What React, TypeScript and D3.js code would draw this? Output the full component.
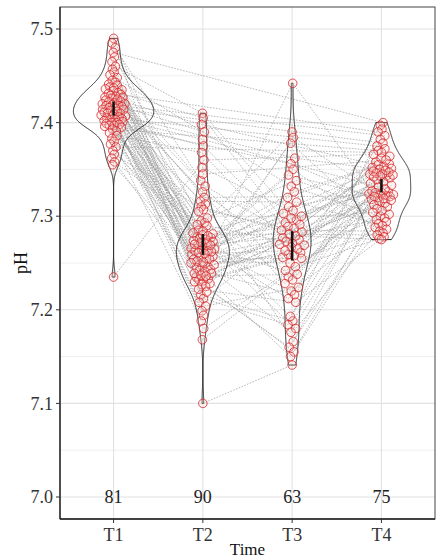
import React from "react";
import * as d3 from "d3";

const times = ["T1", "T2", "T3", "T4"];

// pH per subject (array index = subject id), null = no sample at that time
const phT1 = [
  7.49, 7.485, 7.48, 7.475, 7.47, 7.465, 7.46, 7.457, 7.454, 7.451,
  7.448, 7.445, 7.443, 7.441, 7.44, 7.438, 7.437, 7.436, 7.435, 7.434,
  7.432, 7.431, 7.43, 7.429, 7.428, 7.427, 7.427, 7.426, 7.425, 7.424,
  7.423, 7.422, 7.421, 7.42, 7.42, 7.419, 7.418, 7.418, 7.417, 7.416,
  7.415, 7.414, 7.414, 7.413, 7.412, 7.411, 7.41, 7.41, 7.409, 7.408,
  7.407, 7.407, 7.406, 7.405, 7.404, 7.403, 7.403, 7.402, 7.401, 7.4,
  7.4, 7.399, 7.398, 7.397, 7.397, 7.396, 7.395, 7.393, 7.391, 7.389,
  7.386, 7.383, 7.38, 7.377, 7.374, 7.37, 7.366, 7.362, 7.358, 7.355,
  7.235, null, null, null, null, null, null, null, null, null,
  null, null, null, null, null, null, null, null, null, null,
  null, null, null, null,
];
const phT2 = [
  7.269, 7.338, 7.235, null, 7.295, 7.259, 7.41, 7.216, 7.278, null,
  7.247, 7.267, 7.332, 7.233, 7.293, null, 7.257, 7.405, 7.212, 7.277,
  7.246, 7.266, null, 7.326, 7.232, 7.291, 7.257, 7.398, null, 7.208,
  7.276, 7.245, 7.265, 7.32, 7.231, null, 7.29, 7.255, 7.39, 7.204,
  7.275, null, 7.243, 7.264, 7.316, 7.23, 7.285, 7.254, null, 7.382,
  7.199, 7.274, 7.242, 7.263, null, 7.313, 7.228, 7.284, 7.254, 7.375,
  7.194, null, 7.273, 7.241, 7.263, 7.31, 7.227, null, 7.282, 7.252,
  7.368, 7.188, 7.272, 7.239, null, 7.262, 7.307, 7.225, 7.281, 7.251,
  7.36, 7.18, 7.272, 7.239, 7.261, 7.305, 7.222, 7.28, null, 7.25,
  7.352, 7.168, 7.27, 7.237, 7.26, 7.298, 7.219, 7.279, 7.248, null,
  7.345, 7.1, 7.269, 7.236,
];
const phT3 = [
  7.277, null, 7.442, null, 7.235, null, 7.296, 7.188, null, 7.332,
  7.261, null, 7.275, null, 7.39, 7.232, null, 7.293, 7.184, null,
  null, 7.326, null, 7.259, 7.273, null, 7.384, null, 7.228, 7.291,
  7.18, null, 7.32, null, 7.258, null, 7.271, 7.378, null, 7.224,
  7.289, null, 7.176, null, 7.315, 7.256, null, 7.27, 7.362, null,
  null, 7.22, null, 7.287, null, 7.166, 7.31, null, 7.255, 7.269,
  null, 7.356, null, 7.216, null, 7.285, 7.16, null, 7.306, 7.25,
  7.267, null, 7.35, null, null, 7.212, 7.283, 7.155, null, 7.303,
  null, 7.246, null, 7.265, 7.344, null, 7.208, null, 7.281, 7.15,
  7.3, null, 7.242, null, 7.263, 7.338, null, 7.193, null, 7.279,
  null, 7.141, 7.298, 7.238,
];
const phT4 = [
  7.345, null, 7.302, 7.4, 7.326, null, 7.358, 7.343, null, 7.3,
  7.397, null, 7.325, 7.356, null, 7.341, 7.298, null, 7.393, 7.324,
  null, 7.355, 7.39, 7.296, 7.339, null, 7.323, 7.353, 7.337, null,
  7.294, null, 7.352, 7.322, null, 7.386, 7.335, 7.292, null, 7.382,
  null, 7.378, 7.351, 7.333, 7.29, 7.321, null, 7.32, 7.35, 7.331,
  null, 7.288, 7.318, null, 7.375, 7.349, 7.329, null, 7.286, 7.372,
  null, 7.316, 7.348, 7.327, null, 7.284, 7.314, 7.37, 7.347, null,
  7.325, null, 7.282, 7.312, 7.368, 7.346, null, 7.323, 7.28, null,
  7.366, 7.31, null, 7.345, 7.321, null, 7.278, null, 7.364, 7.308,
  7.344, 7.319, 7.276, null, 7.362, 7.306, null, 7.343, 7.317, 7.275,
  7.36, null, 7.304, 7.342,
];

const yTicks = [7.0, 7.1, 7.2, 7.3, 7.4, 7.5];
const yMinor = [7.05, 7.15, 7.25, 7.35, 7.45];

const width = 436;
const height = 560;
const left = 60;
const right = 435;
const top = 7;
const bottom = 519;

const x = d3.scaleLinear().domain([0.4, 4.6]).range([left, right]);
const y = d3.scaleLinear().domain([6.9765, 7.5235]).range([bottom, top]);

const series: (number | null)[][] = [phT1, phT2, phT3, phT4];

const gauss = (u: number) => Math.exp(-0.5 * u * u) / Math.sqrt(2 * Math.PI);

// van der Corput sequence, used like ggbeeswarm's quasirandom spread
function vdc(n: number) {
  let v = 0;
  let d = 1;
  while (n > 0) {
    d *= 2;
    v += (n % 2) / d;
    n = Math.floor(n / 2);
  }
  return v;
}

const groups = series.map((arr) => {
  const vals = arr.filter((v) => v != null) as number[];
  const sorted = vals.slice().sort(d3.ascending);
  const n = vals.length;
  const sd = d3.deviation(vals) as number;
  const iqr = (d3.quantileSorted(sorted, 0.75) as number) - (d3.quantileSorted(sorted, 0.25) as number);
  const bw = 0.9 * Math.min(sd, iqr / 1.34) * Math.pow(n, -0.2);
  const dens = (t: number) => (d3.mean(vals, (v) => gauss((t - v) / bw)) as number) / bw;
  const [lo, hi] = d3.extent(vals) as [number, number];
  const curve = d3.range(512).map((i) => {
    const t = lo + ((hi - lo) * i) / 511;
    return { t, d: dens(t) };
  });
  const mean = d3.mean(vals) as number;
  const ci = (1.96 * sd) / Math.sqrt(n);
  return { vals, n, dens, curve, maxD: d3.max(curve, (c) => c.d) as number, mean, ci };
});

const maxDens = d3.max(groups, (g) => g.maxD) as number;
const halfW = 0.45 * (x(2) - x(1));
const spread = 13;

const positions = series.map((arr, gi) => {
  const g = groups[gi];
  const ids = d3.range(arr.length).filter((s) => arr[s] != null);
  ids.sort((a, b) => (arr[a] as number) - (arr[b] as number) || a - b);
  const pos: ({ x: number; y: number } | null)[] = arr.map(() => null);
  ids.forEach((s, r) => {
    const v = arr[s] as number;
    const off = (vdc(r + 1) - 0.5) * 2 * spread * (g.dens(v) / g.maxD);
    pos[s] = { x: x(gi + 1) + off, y: y(v) };
  });
  return pos;
});

const subjectLines = d3
  .range(phT1.length)
  .map((s) => positions.map((p) => p[s]).filter((p) => p != null) as { x: number; y: number }[])
  .filter((p) => p.length > 1);

const line = d3
  .line<{ x: number; y: number }>()
  .x((d) => d.x)
  .y((d) => d.y);

const font = "'Liberation Serif', 'Times New Roman', serif";

export default function App() {
  return (
    <svg
      width={width}
      height={height}
      style={{ position: "absolute", left: 0, top: 0, background: "#fff" }}
      fontFamily={font}
    >
      <rect x={0} y={0} width={width} height={height} fill="#fff" />
      {/* grid */}
      {yMinor.map((t) => (
        <line key={"mi" + t} x1={left} x2={right} y1={y(t)} y2={y(t)} stroke="#eeeeee" strokeWidth={0.9} />
      ))}
      {yTicks.map((t) => (
        <line key={"ma" + t} x1={left} x2={right} y1={y(t)} y2={y(t)} stroke="#e2e2e2" strokeWidth={1.1} />
      ))}
      {times.map((t, i) => (
        <line key={"gx" + t} x1={x(i + 1)} x2={x(i + 1)} y1={top} y2={bottom} stroke="#e2e2e2" strokeWidth={1.1} />
      ))}

      {/* paired lines */}
      <g fill="none" stroke="#8a8a8a" strokeWidth={0.7} strokeDasharray="1.6,1.4" opacity={0.85}>
        {subjectLines.map((p, i) => (
          <path key={i} d={line(p) as string} />
        ))}
      </g>

      {/* violins */}
      {groups.map((g, gi) => {
        const cx = x(gi + 1);
        const area = d3
          .area<{ t: number; d: number }>()
          .y((c) => y(c.t))
          .x0((c) => cx - (halfW * c.d) / maxDens)
          .x1((c) => cx + (halfW * c.d) / maxDens);
        return <path key={"v" + gi} d={area(g.curve) as string} fill="none" stroke="#222" strokeWidth={1} />;
      })}

      {/* points */}
      <g fill="rgba(255,210,210,0.25)" stroke="#d42020" strokeWidth={0.9} strokeOpacity={0.85}>
        {positions.map((pos, gi) =>
          pos.map((p, s) => (p ? <circle key={gi + "-" + s} cx={p.x} cy={p.y} r={4.3} /> : null))
        )}
      </g>

      {/* mean with 95% interval */}
      {groups.map((g, gi) => (
        <rect
          key={"m" + gi}
          x={x(gi + 1) - 1.25}
          width={2.5}
          y={y(g.mean + g.ci)}
          height={y(g.mean - g.ci) - y(g.mean + g.ci)}
          fill="#111"
        />
      ))}

      {/* counts */}
      {groups.map((g, gi) => (
        <text key={"n" + gi} x={x(gi + 1)} y={y(7.0)} dy="0.35em" textAnchor="middle" fontSize={18} fill="#222">
          {g.n}
        </text>
      ))}

      {/* frame and axes */}
      <rect x={left} y={top} width={right - left} height={bottom - top} fill="none" stroke="#444" strokeWidth={1} />
      <line x1={left} x2={left} y1={top} y2={bottom} stroke="#222" strokeWidth={1.3} />
      <line x1={left} x2={right} y1={bottom} y2={bottom} stroke="#222" strokeWidth={1.3} />

      {yTicks.map((t) => (
        <g key={"yt" + t}>
          <line x1={left - 4} x2={left} y1={y(t)} y2={y(t)} stroke="#333" />
          <text x={left - 7} y={y(t)} dy="0.35em" textAnchor="end" fontSize={18} fill="#333">
            {t.toFixed(1)}
          </text>
        </g>
      ))}
      {times.map((t, i) => (
        <g key={"xt" + t}>
          <line x1={x(i + 1)} x2={x(i + 1)} y1={bottom} y2={bottom + 4} stroke="#333" />
          <text x={x(i + 1)} y={bottom + 16} dy="0.35em" textAnchor="middle" fontSize={18} fill="#333">
            {t}
          </text>
        </g>
      ))}

      <text x={(left + right) / 2} y={555} textAnchor="middle" fontSize={17} fill="#111">
        Time
      </text>
      <text
        transform={`translate(21,${(top + bottom) / 2}) rotate(-90)`}
        textAnchor="middle"
        dy="0.35em"
        fontSize={18}
        fill="#111"
      >
        pH
      </text>
    </svg>
  );
}
